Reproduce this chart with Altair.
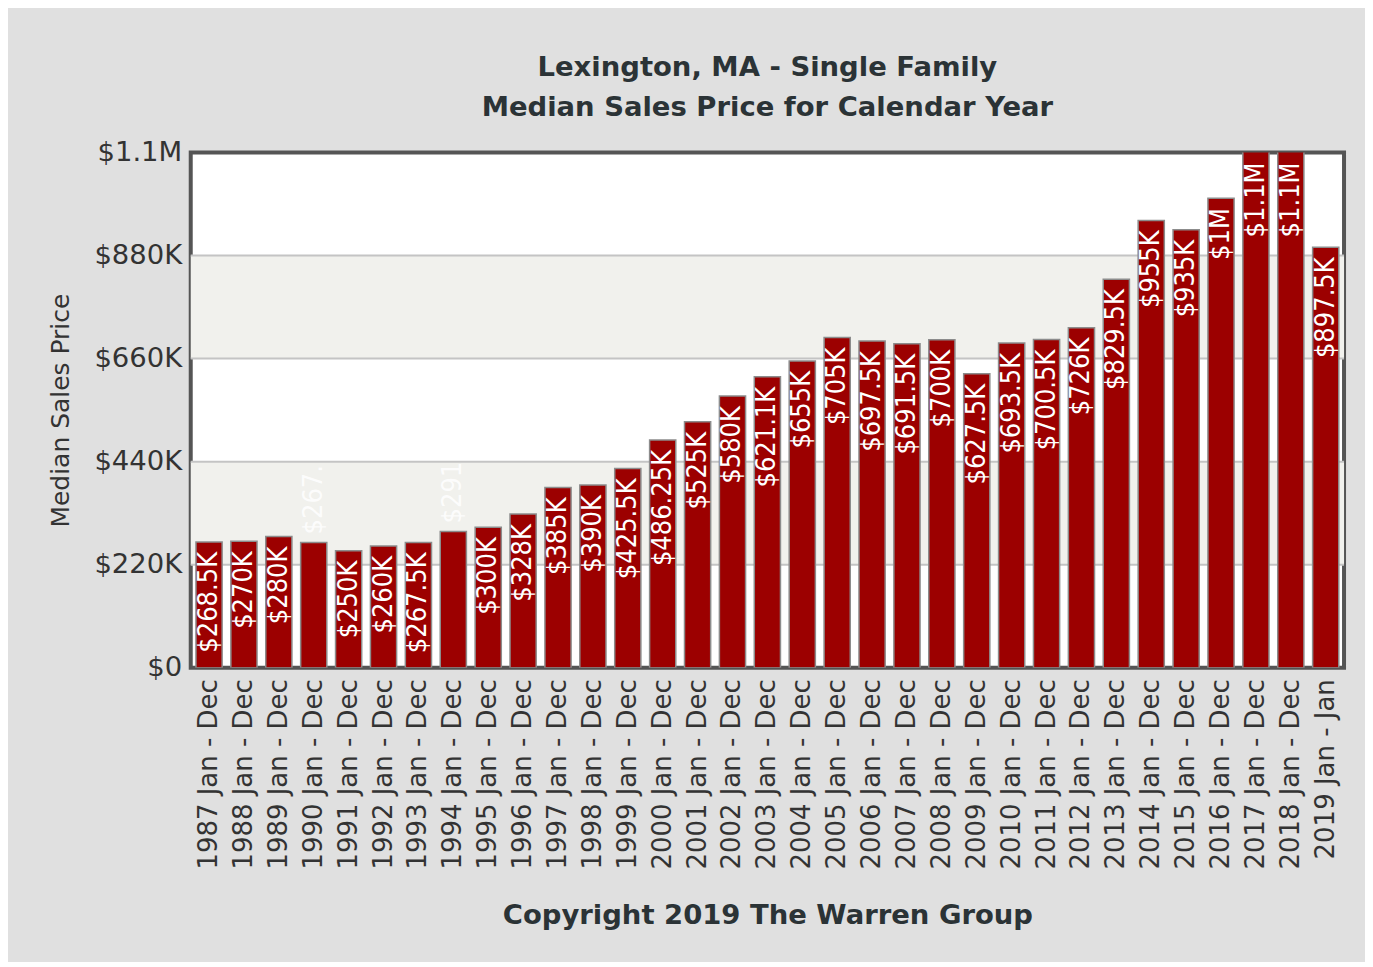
import altair as alt
import pandas as pd

periods = [
    "1987 Jan - Dec", "1988 Jan - Dec", "1989 Jan - Dec", "1990 Jan - Dec",
    "1991 Jan - Dec", "1992 Jan - Dec", "1993 Jan - Dec", "1994 Jan - Dec",
    "1995 Jan - Dec", "1996 Jan - Dec", "1997 Jan - Dec", "1998 Jan - Dec",
    "1999 Jan - Dec", "2000 Jan - Dec", "2001 Jan - Dec", "2002 Jan - Dec",
    "2003 Jan - Dec", "2004 Jan - Dec", "2005 Jan - Dec", "2006 Jan - Dec",
    "2007 Jan - Dec", "2008 Jan - Dec", "2009 Jan - Dec", "2010 Jan - Dec",
    "2011 Jan - Dec", "2012 Jan - Dec", "2013 Jan - Dec", "2014 Jan - Dec",
    "2015 Jan - Dec", "2016 Jan - Dec", "2017 Jan - Dec", "2018 Jan - Dec",
    "2019 Jan - Jan",
]
# median price in $K
values = [
    268.5, 270, 280, 267.5, 250, 260, 267.5, 291, 300, 328, 385, 390, 425.5,
    486.25, 525, 580, 621.1, 655, 705, 697.5, 691.5, 700, 627.5, 693.5, 700.5,
    726, 829.5, 955, 935, 1002.5, 1120, 1130, 897.5,
]
labels = [
    "$268.5K", "$270K", "$280K", "$267.", "$250K", "$260K", "$267.5K", "$291",
    "$300K", "$328K", "$385K", "$390K", "$425.5K", "$486.25K", "$525K", "$580K",
    "$621.1K", "$655K", "$705K", "$697.5K", "$691.5K", "$700K", "$627.5K",
    "$693.5K", "$700.5K", "$726K", "$829.5K", "$955K", "$935K", "$1M", "$1.1M",
    "$1.1M", "$897.5K",
]
# labels the source drew above the bar (faded)
outside_labels = ["1990 Jan - Dec", "1994 Jan - Dec"]

tick_values = [0, 220, 440, 660, 880, 1100]
tick_labels = ["$0", "$220K", "$440K", "$660K", "$880K", "$1.1M"]
band_start = [220, 660]
band_end = [440, 880]

df = pd.DataFrame({"period": periods, "value": values, "label": labels})
df["outside"] = df["period"].isin(outside_labels)
bands = pd.DataFrame({"value": band_start, "value2": band_end})
grid = pd.DataFrame({"value": tick_values[1:-1]})

label_expr = " : ".join(
    f"datum.value == {v} ? '{t}'" for v, t in zip(tick_values, tick_labels)
) + " : ''"

TXT = "#333333"
FONT = "DejaVu Sans"

yscale = alt.Scale(domain=[0, 1100], nice=False, zero=True)
yaxis = alt.Axis(
    values=tick_values, labelExpr=label_expr, grid=False, domain=False,
    ticks=False, labelFontSize=27.5, labelColor=TXT, labelFont=FONT,
    labelPadding=9, title="Median Sales Price", titleFontSize=25,
    titleColor=TXT, titleFont=FONT, titleFontWeight="normal", titlePadding=20,
)
xenc = alt.X(
    "period:N", sort=periods,
    scale=alt.Scale(paddingInner=0.25, paddingOuter=0.15),
    axis=alt.Axis(
        labelAngle=270, labelAlign="right", labelBaseline="middle",
        labelFontSize=26, labelColor=TXT, labelFont=FONT, labelPadding=11,
        ticks=False, domain=False, labelLimit=400,
        title="Copyright 2019 The Warren Group", titleFontSize=27.5,
        titleFont=FONT, titleFontWeight="bold", titleColor="#2b3336",
        titlePadding=34,
    ),
)

band_layer = alt.Chart(bands).mark_rect(color="#f1f1ed").encode(
    y=alt.Y("value:Q", scale=yscale, axis=yaxis), y2="value2:Q"
)
grid_layer = alt.Chart(grid).mark_rule(color="#c4c4c4", strokeWidth=2).encode(
    y=alt.Y("value:Q", scale=yscale, axis=yaxis)
)
bar_layer = alt.Chart(df).mark_bar(
    color="#9c0000", stroke="#8c8c8c", strokeWidth=1.5, clip=True
).encode(x=xenc, y=alt.Y("value:Q", scale=yscale, axis=yaxis))

inside_layer = alt.Chart(df).transform_filter("!datum.outside").transform_calculate(
    ly="min(datum.value, 1100)"
).mark_text(
    angle=270, align="right", baseline="middle", dx=-10, color="white",
    font="DejaVu Sans Condensed", fontSize=27,
).encode(x=xenc, y=alt.Y("ly:Q", scale=yscale, axis=yaxis), text="label:N")

outside_layer = alt.Chart(df).transform_filter("datum.outside").mark_text(
    angle=270, align="left", baseline="middle", dx=8, color="white",
    opacity=0.85, font="DejaVu Sans Condensed", fontSize=27,
).encode(x=xenc, y=alt.Y("value:Q", scale=yscale, axis=yaxis), text="label:N")

chart = alt.layer(
    band_layer, grid_layer, bar_layer, inside_layer, outside_layer
).properties(
    width=1155, height=516,
    padding={"left": 40, "top": 45, "right": 20, "bottom": 32},
    background="#e0e0e0",
    title=alt.TitleParams(
        text=["Lexington, MA - Single Family", "Median Sales Price for Calendar Year"],
        font=FONT, fontWeight="bold", fontSize=27.5, color="#2b3336",
        anchor="middle", frame="group", offset=17, lineHeight=40,
    ),
).configure_view(fill="white", stroke="#555555", strokeWidth=4)

chart.save("out.html", embed_options={"renderer": "svg", "actions": False})
